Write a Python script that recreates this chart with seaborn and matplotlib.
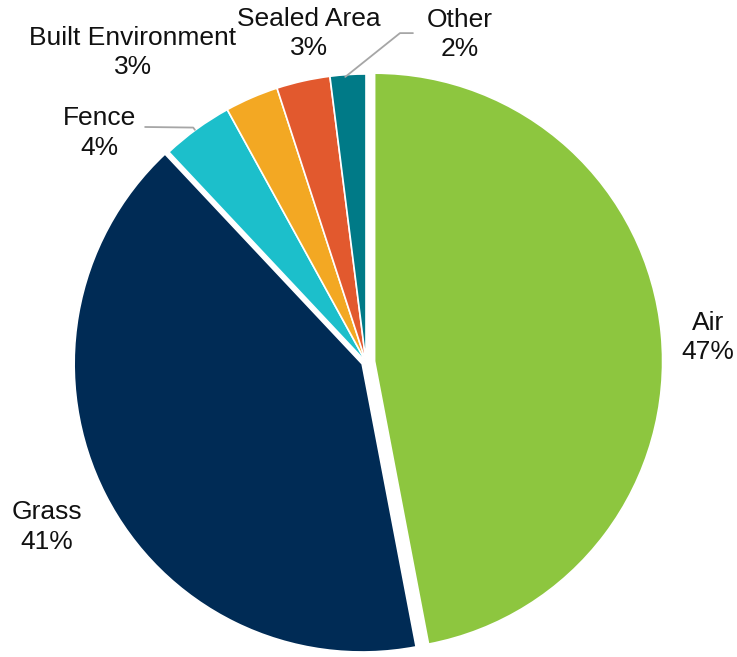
import matplotlib
matplotlib.use("Agg")
import matplotlib.pyplot as plt
import seaborn as sns

sns.set_theme(style="white")
plt.rcParams["font.family"] = ["Liberation Sans", "DejaVu Sans"]

categories = ["Air", "Grass", "Fence", "Built Environment", "Sealed Area", "Other"]
shares = [47, 41, 4, 3, 3, 2]
colors = ["#8DC63F", "#002B55", "#1CBFCB", "#F3A823", "#E2592E", "#007A87"]
explode = [0.03, 0.015, 0, 0, 0, 0]

# label anchor points (data units, pie radius = 1)
label_pos = {
    "Air": (1.188, 0.085),
    "Grass": (-1.108, -0.573),
    "Fence": (-0.924, 0.795),
    "Built Environment": (-0.809, 1.076),
    "Sealed Area": (-0.198, 1.142),
    "Other": (0.326, 1.137),
}

W, H = 737, 657
R_PX = 288
CX, CY = 366, 362

fig = plt.figure(figsize=(W / 100, H / 100), dpi=100)
ax = fig.add_axes([0, 0, 1, 1])

wedges, _ = ax.pie(
    shares,
    colors=colors,
    explode=explode,
    startangle=90,
    counterclock=False,
    wedgeprops=dict(edgecolor="white", linewidth=1.2),
)

ax.set_xlim(-CX / R_PX, (W - CX) / R_PX)
ax.set_ylim(-(H - CY) / R_PX, CY / R_PX)
ax.set_aspect("equal")
ax.axis("off")

for name, val in zip(categories, shares):
    x, y = label_pos[name]
    ax.text(x, y, f"{name}\n{val}%", ha="center", va="center",
            fontsize=19, color="#111111", linespacing=1.27)

# leader lines for the small slices
leader = dict(color="#A6A6A6", linewidth=1.3)
ax.plot([0.163, 0.118, -0.072], [1.142, 1.142, 0.99], **leader)
ax.plot([-0.767, -0.600, -0.594], [0.816, 0.814, 0.806], **leader)

fig.savefig("out.png", dpi=100, facecolor="white")
